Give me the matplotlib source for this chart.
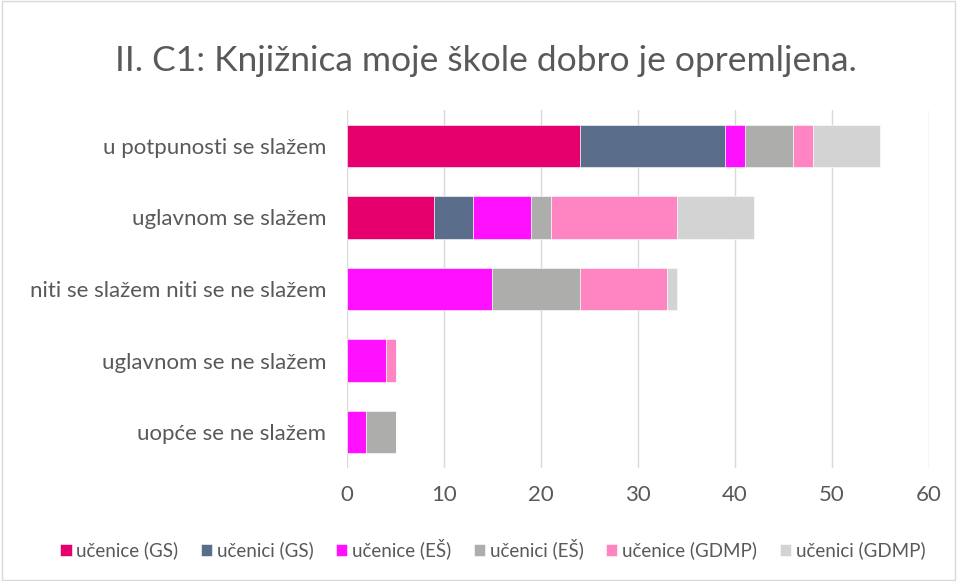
import numpy as np
import matplotlib.pyplot as plt
from matplotlib.patches import Rectangle

plt.rcParams['font.family'] = ['Lato', 'DejaVu Sans']

categories = ["u potpunosti se slažem", "uglavnom se slažem",
              "niti se slažem niti se ne slažem", "uglavnom se ne slažem",
              "uopće se ne slažem"]
series = ["učenice (GS)", "učenici (GS)", "učenice (EŠ)", "učenici (EŠ)",
          "učenice (GDMP)", "učenici (GDMP)"]
ucenice_gs = [24, 9, 0, 0, 0]
ucenici_gs = [15, 4, 0, 0, 0]
ucenice_es = [2, 6, 15, 4, 2]
ucenici_es = [5, 2, 9, 0, 3]
ucenice_gdmp = [2, 13, 9, 1, 0]
ucenici_gdmp = [7, 8, 1, 0, 0]
colors = ["#E5006E", "#5A6D8A", "#FF10FF", "#ADADAB", "#FF85C2", "#D4D3D3"]

values = [ucenice_gs, ucenici_gs, ucenice_es, ucenici_es, ucenice_gdmp, ucenici_gdmp]
txt = "#595959"

fig = plt.figure(figsize=(9.57, 5.81), dpi=100)
fig.patches.append(Rectangle((0.002, 0.002), 0.996, 0.996, transform=fig.transFigure,
                             fill=False, edgecolor="#D9D9D9", lw=1))
ax = fig.add_axes([0.3626, 0.1945, 0.6081, 0.6162])

y = np.arange(len(categories))
left = np.zeros(len(categories))
for name, vals, c in zip(series, values, colors):
    vals = np.array(vals)
    ax.barh(y, vals, left=left, height=0.59, color=c, label=name,
            edgecolor="white", linewidth=0.4)
    left += vals

ax.set_xlim(0, 60)
ax.set_ylim(len(categories) - 0.5, -0.5)
ax.set_xticks(np.arange(0, 61, 10))
ax.set_yticks(y)
ax.set_yticklabels(categories)
ax.tick_params(axis='both', length=0, colors=txt, labelsize=16)
ax.tick_params(axis='x', pad=12)
ax.tick_params(axis='y', pad=15)
ax.grid(axis='x', color="#D9D9D9", lw=1)
ax.set_axisbelow(True)
for s in ax.spines.values():
    s.set_visible(False)

fig.text(0.508, 0.895, "II. C1: Knjižnica moje škole dobro je opremljena.",
         ha='center', va='center', fontsize=25.5, color=txt)

fig.legend(loc='center', bbox_to_anchor=(0.515, 0.055), ncol=6, frameon=False,
           fontsize=13.5, handlelength=0.6, handleheight=0.6, handletextpad=0.25,
           columnspacing=1.2, labelcolor=txt)

fig.savefig("out.png", dpi=100)
